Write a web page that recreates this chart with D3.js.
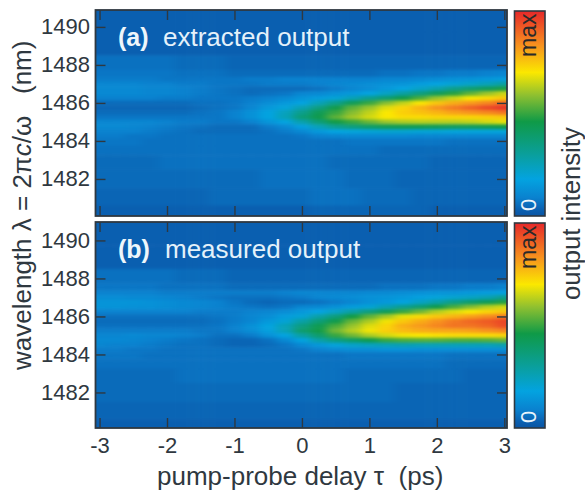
<!DOCTYPE html>
<html>
<head>
<meta charset="utf-8">
<script src="https://cdnjs.cloudflare.com/ajax/libs/d3/7.8.5/d3.min.js"></script>
<style>
  html, body { margin: 0; padding: 0; background: #fff; }
  text { font-family: "Liberation Sans", Arial, sans-serif; white-space: pre; }
</style>
</head>
<body>
<div id="chart"></div>
<script>
const delays = [-3, -2.75, -2.5, -2.25, -2, -1.75, -1.5, -1.25, -1, -0.75, -0.5, -0.25, 0, 0.25, 0.5, 0.75, 1, 1.25, 1.5, 1.75, 2, 2.25, 2.5, 2.75, 3];
const wavelengths = [1490.5, 1489, 1488, 1487.5, 1487.25, 1487, 1486.75, 1486.5, 1486.25, 1486, 1485.75, 1485.5, 1485.25, 1485, 1484.75, 1484.5, 1484.25, 1484, 1483.5, 1483, 1482, 1481, 1480.2];

const extracted = [
  [3,3,3,3,3,3,3,3,3,3,3,3,3,3,3,3,3,3,3,3,3,3,3,3,3],
  [3,3,3,3,3,3,3,3,3,3,3,3,3,3,3,3,3,3,3,3,3,3,3,3,3],
  [6,6,6,6,6,5,5,5,4,4,4,4,4,4,4,4,4,4,4,4,4,4,4,4,4],
  [7,7,7,7,7,6,6,6,5,5,5,5,5,5,5,5,5,6,6,7,7,8,8,9,10],
  [8,8,8,8,7,7,7,7,7,8,8,9,9,9,9,9,9,10,10,11,12,13,14,15,16],
  [10,10,10,9,9,8,8,7,7,7,8,8,8,9,10,11,12,13,14,16,18,20,22,25,29],
  [11,11,11,10,10,9,8,7,6,5,5,5,5,6,8,10,12,15,18,22,27,33,38,42,47],
  [11,11,11,10,10,9,8,7,6,5,6,7,10,11,13,15,18,23,29,35,42,48,54,60,65],
  [9,9,9,9,8,8,7,7,7,8,9,11,14,16,20,25,32,38,45,52,60,65,70,72,75],
  [5,5,5,5,5,5,6,6,7,9,12,15,18,25,33,43,50,58,64,70,75,79,82,85,90],
  [4,4,4,4,4,4,5,6,7,10,15,19,26,35,45,54,60,67,73,78,83,87,91,95,98],
  [5,5,5,5,5,5,6,7,9,13,18,24,33,43,50,58,64,70,74,76,78,81,83,85,88],
  [7,7,7,7,7,7,7,7,9,13,18,25,37,45,54,61,66,70,72,72,73,73,73,74,75],
  [10,10,10,10,9,8,8,7,7,9,14,18,27,37,46,50,55,60,62,63,63,63,64,66,68],
  [11,11,10,9,8,7,6,5,5,5,8,11,17,25,32,36,40,43,44,44,43,42,42,44,46],
  [9,9,9,8,7,6,5,5,5,5,6,8,11,15,18,19,20,21,21,20,20,19,19,19,19],
  [8,8,7,7,6,6,6,6,6,6,6,6,7,9,10,11,11,11,11,10,10,10,10,10,10],
  [7,7,7,6,6,6,6,6,6,6,6,6,6,6,6,7,7,7,7,7,7,6,6,6,6],
  [6,6,6,6,6,6,6,6,6,6,6,6,6,6,6,6,6,5,5,5,5,5,5,5,5],
  [5,5,5,5,6,6,6,6,6,6,6,6,6,6,5,5,5,5,5,5,4,4,4,4,4],
  [5,5,5,5,5,5,5,5,5,5,6,6,6,6,6,5,5,5,4,4,4,4,4,4,4],
  [4,4,4,4,4,4,4,5,5,5,5,5,5,6,6,6,5,5,5,4,4,4,4,4,4],
  [3,3,3,3,3,3,3,3,3,3,3,3,3,4,4,4,4,4,4,4,3,3,3,3,3]
];

const measured = [
  [3,3,3,3,3,3,3,3,3,3,3,3,3,3,3,3,3,3,3,3,3,3,3,3,3],
  [3,3,3,3,3,3,3,3,3,3,3,3,3,3,3,3,3,3,3,3,3,3,3,3,3],
  [6,6,6,6,6,5,5,5,4,4,4,4,4,4,4,4,4,4,4,4,4,4,4,4,4],
  [7,7,7,7,6,6,6,6,5,5,5,5,5,5,5,5,5,6,6,6,7,7,8,8,9],
  [9,9,9,9,8,8,8,8,8,8,8,9,10,10,10,10,11,11,12,13,14,14,15,16,17],
  [12,12,11,11,10,9,8,7,6,6,6,7,8,10,11,12,13,14,15,17,19,21,23,26,32],
  [14,14,14,13,12,11,10,9,7,5,4,5,5,6,8,10,13,15,18,23,28,34,39,43,48],
  [14,14,13,13,12,11,10,9,8,7,6,7,10,11,13,16,20,26,32,38,45,52,58,63,66],
  [9,9,9,9,9,9,8,8,8,9,10,12,15,18,23,29,36,43,50,56,63,67,70,73,75],
  [6,6,6,6,6,6,6,7,8,10,12,16,20,28,36,46,54,61,68,72,75,78,81,84,87],
  [5,5,5,5,5,5,5,6,8,10,15,20,28,37,45,55,62,69,75,79,83,87,90,92,95],
  [6,6,6,6,6,6,6,7,9,13,18,25,35,44,52,60,67,73,79,82,85,88,88,90,94],
  [8,8,8,8,8,8,7,7,9,12,17,25,39,46,56,63,69,74,77,79,80,80,81,83,85],
  [10,10,11,10,10,9,8,6,6,8,13,18,29,39,50,56,62,66,69,70,71,72,72,72,73],
  [11,11,10,9,8,7,6,5,4,4,6,11,18,28,35,40,45,50,52,53,53,52,52,53,55],
  [10,9,9,8,7,6,6,5,4,4,5,7,11,15,19,22,24,25,26,25,25,25,25,25,27],
  [8,8,7,7,6,6,6,6,6,6,6,6,7,9,11,12,12,13,13,12,12,12,12,12,12],
  [7,7,7,6,6,6,6,6,6,6,6,6,6,6,6,7,7,7,7,7,7,6,6,6,6],
  [6,6,6,6,6,6,6,6,6,6,6,6,6,6,6,6,6,6,6,6,6,5,5,5,5],
  [5,5,5,5,5,6,6,6,6,6,6,6,6,6,6,5,5,5,5,5,5,5,4,4,4],
  [5,5,5,5,5,5,5,5,5,5,5,5,5,5,5,5,5,5,4,4,4,4,4,4,4],
  [4,4,4,4,4,4,4,4,4,4,4,4,4,4,4,4,4,4,4,4,4,4,4,4,4],
  [3,3,3,3,3,3,3,3,3,3,3,3,3,3,3,3,3,3,3,3,3,3,3,3,3]
];

const colorStops = [0, 3, 9, 18, 30, 46, 59, 70, 83, 100];
const colorValues = ["#0a55a3", "#0a5fb0", "#0a82cf", "#03a3e0", "#0a9f9c", "#0f9a47", "#8fc030", "#fbe800", "#f7931e", "#e6282a"];
const xTicks = [-3, -2, -1, 0, 1, 2, 3];
const yTicks = [1482, 1484, 1486, 1488, 1490];

const width = 585, height = 493;
const ink = "#2f3840";

const color = d3.scaleLinear().domain(colorStops).range(colorValues);

const svg = d3.select("#chart").append("svg")
  .attr("width", width).attr("height", height)
  .style("display", "block");

const defs = svg.append("defs");
const blur = defs.append("filter").attr("id", "smooth")
  .attr("filterUnits", "userSpaceOnUse")
  .attr("x", 0).attr("y", 0).attr("width", width).attr("height", height)
  .attr("color-interpolation-filters", "sRGB");
blur.append("feGaussianBlur").attr("stdDeviation", "5 1.8");

const grad = defs.append("linearGradient").attr("id", "bar")
  .attr("x1", 0).attr("x2", 0).attr("y1", 1).attr("y2", 0);
grad.selectAll("stop").data(colorStops).enter().append("stop")
  .attr("offset", d => d / 100)
  .attr("stop-color", d => color(d));

const x = d3.scaleLinear().domain([-3.06, 3.04]).range([95.5, 507]);

function edges(values, scale, pad) {
  const mids = d3.pairs(values, (a, b) => scale((a + b) / 2));
  const first = scale(values[0]), last = scale(values[values.length - 1]);
  const dir = last > first ? 1 : -1;
  return [first - dir * pad, ...mids, last + dir * pad];
}

function drawPanel(id, grid, yDomain, top, bottom, tag, tagX, label, labelX, baseline, showX) {
  const y = d3.scaleLinear().domain(yDomain).range([top, bottom]);
  const g = svg.append("g").attr("id", id);

  const clip = defs.append("clipPath").attr("id", "clip-" + id);
  clip.append("rect").attr("x", x.range()[0]).attr("y", top)
    .attr("width", x.range()[1] - x.range()[0]).attr("height", bottom - top);

  const xe = edges(delays, x, 40);
  const ye = edges(wavelengths, y, 40);
  const cells = g.append("g").attr("clip-path", `url(#clip-${id})`)
    .append("g").attr("filter", "url(#smooth)");
  grid.forEach((row, r) => {
    cells.selectAll(null).data(row).enter().append("rect")
      .attr("x", (d, c) => xe[c])
      .attr("y", ye[r])
      .attr("width", (d, c) => xe[c + 1] - xe[c] + 0.5)
      .attr("height", ye[r + 1] - ye[r] + 0.5)
      .attr("fill", d => color(d));
  });

  const tickLen = -10;
  const axes = [
    [d3.axisLeft(y).tickValues(yTicks).tickSize(tickLen).tickPadding(5.5).tickFormat(d => String(d)), x.range()[0], 0],
    [d3.axisRight(y).tickValues(yTicks).tickSize(tickLen).tickFormat(""), x.range()[1], 0],
    [d3.axisTop(x).tickValues(xTicks).tickSize(tickLen).tickFormat(""), 0, top],
    [d3.axisBottom(x).tickValues(xTicks).tickSize(tickLen).tickPadding(9.5).tickFormat(showX ? (d => String(d)) : ""), 0, bottom]
  ];
  axes.forEach(([axis, tx, ty]) => {
    const a = g.append("g").attr("transform", `translate(${tx},${ty})`).call(axis);
    a.select(".domain").remove();
    a.selectAll("line").attr("stroke", ink).attr("stroke-width", 1.4);
    a.selectAll("text").attr("font-size", 22).attr("fill", ink)
      .style("font-family", '"Liberation Sans", Arial, sans-serif');
  });

  g.append("rect").attr("x", x.range()[0]).attr("y", top)
    .attr("width", x.range()[1] - x.range()[0]).attr("height", bottom - top)
    .attr("fill", "none").attr("stroke", ink).attr("stroke-width", 1.8);

  g.append("text").attr("x", tagX).attr("y", baseline)
    .attr("font-size", 25).attr("font-weight", "bold").attr("fill", "#eef6fb").text(tag);
  g.append("text").attr("x", labelX).attr("y", baseline)
    .attr("font-size", 26).attr("fill", "#e4f1fa").text(label);

  // colour bar
  const barX = 514.5, barW = 30.5;
  g.append("rect").attr("x", barX).attr("y", top + 1)
    .attr("width", barW).attr("height", bottom - top - 1)
    .attr("fill", "url(#bar)").attr("stroke", ink).attr("stroke-width", 1.6);
  g.append("text")
    .attr("transform", `translate(${barX + 21.5},${top + 47}) rotate(-90)`)
    .attr("font-size", 23).attr("fill", "#2a2a2a").text("max");
  g.append("text")
    .attr("transform", `translate(${barX + 21.5},${bottom - 5}) rotate(-90)`)
    .attr("font-size", 22).attr("fill", "#e8f4fb").text("0");
}

drawPanel("a", extracted, [1490.89, 1480.05], 10, 216, "(a)", 118, "extracted output", 163, 46, false);
drawPanel("b", measured, [1490.97, 1480.13], 222, 428, "(b)", 118, "measured output", 165, 258, true);

svg.append("text").attr("x", 157).attr("y", 485)
  .attr("font-size", 26).attr("fill", ink)
  .text("pump-probe delay τ  (ps)");

const yLabel = svg.append("text")
  .attr("transform", "translate(31,370) rotate(-90)")
  .attr("font-size", 26).attr("fill", ink);
yLabel.append("tspan").text("wavelength λ = 2π");
yLabel.append("tspan").attr("font-style", "italic").text("c");
yLabel.append("tspan").text("/ω   (nm)");

svg.append("text")
  .attr("transform", "translate(580,300) rotate(-90)")
  .attr("font-size", 25.7).attr("fill", ink).text("output intensity");
</script>
</body>
</html>
